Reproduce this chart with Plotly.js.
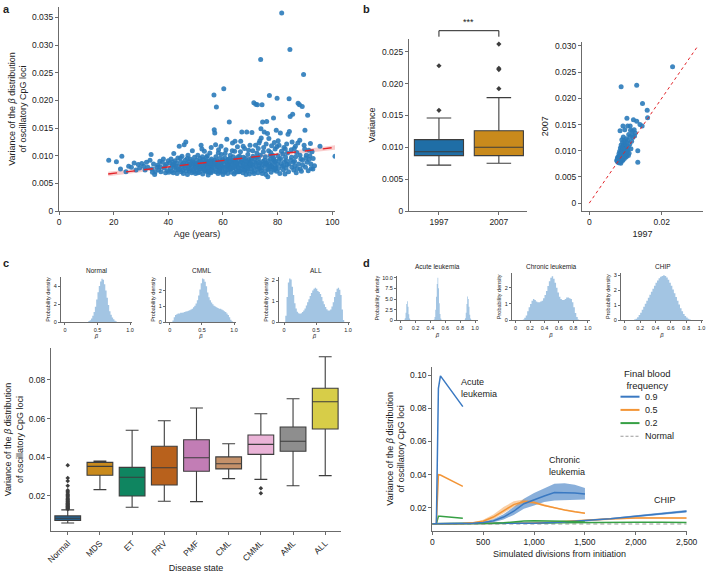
<!DOCTYPE html>
<html><head><meta charset="utf-8">
<script src="https://cdn.plot.ly/plotly-3.0.1.min.js"></script>
<style>html,body{margin:0;padding:0;background:#fff}#chart{width:706px;height:573px}</style>
</head><body><div id="chart"></div><script>
// ---------- Panel a: age vs variance ----------
const scatterA = [
[18.2,0.0092],[21,0.0089],[23,0.0099],[22.5,0.0076],[24.5,0.0071],[25.5,0.0081],[26.5,0.0079],[27.5,0.0087],[28.2,0.0074],[29,0.0084],[29.5,0.0078],[30.3,0.0086],
[31,0.0081],[31.5,0.0074],[32,0.0088],[32.5,0.0079],[33.3,0.0092],[33.7,0.0102],[34,0.0076],[34.6,0.0085],[35,0.0066],[35.2,0.0071],[35.8,0.0079],[36.2,0.0083],[36.5,0.0074],[37,0.0080],[37.3,0.0071],[37.8,0.0088],[38.2,0.0094],[38.5,0.0078],[39,0.0069],[39.3,0.0085],[39.7,0.0073],[40,0.0091],[38.8,0.0082],[36.9,0.0090],[34.2,0.0070],
[40.5,0.0087],[40.8,0.0077],[41,0.0094],[41.2,0.0072],[41.5,0.0083],[41.8,0.0069],[42,0.0104],[42.2,0.0079],[42.5,0.0091],[42.8,0.0074],[43,0.0087],[43.2,0.0068],[43.5,0.0096],[43.8,0.0081],[44,0.0117],[44.2,0.0075],[44.5,0.0089],[44.7,0.0071],[45,0.0099],[45.2,0.0084],[45.5,0.0068],[45.8,0.0120],[46,0.0078],[46.2,0.0092],[46.4,0.0125],[46.6,0.0073],[46.8,0.0086],[47,0.0066],[47.2,0.0101],[47.4,0.0080],[47.6,0.0089],[47.8,0.0072],[48,0.0094],[48.2,0.0077],[48.4,0.0083],[48.6,0.0069],[48.8,0.0109],[49,0.0075],[49.2,0.0088],[49.4,0.0071],[49.6,0.0097],[49.8,0.0082],[50,0.0068],[43.6,0.0075],[44.9,0.0081],[46.9,0.0095],[47.9,0.0084],[48.9,0.0091],[49.9,0.0079],[41.6,0.0088],[42.6,0.0082],[45.6,0.0087],[40.2,0.0070],[41.9,0.0084],[44.4,0.0096],[45.3,0.0074],[46.3,0.0082],[47.5,0.0076],[48.5,0.0086],[49.5,0.0084],
[50.2,0.0083],[50.4,0.0092],[50.6,0.0074],[50.8,0.0101],[51,0.0079],[51.2,0.0088],[51.4,0.0070],[51.6,0.0095],[51.8,0.0082],[52,0.0119],[52.2,0.0076],[52.4,0.0087],[52.6,0.0067],[52.8,0.0093],[53,0.0080],[53.2,0.0108],[53.4,0.0073],[53.6,0.0086],[53.8,0.0078],[54,0.0097],[54.2,0.0071],[54.4,0.0084],[54.6,0.0065],[54.8,0.0090],[55,0.0077],[55.2,0.0105],[55.4,0.0082],[55.6,0.0069],[55.8,0.0094],[56,0.0079],[56.2,0.0088],[56.4,0.0072],[56.7,0.0210],[56.8,0.0147],[57,0.0141],[57.2,0.0083],[57.4,0.0098],[57.6,0.0188],[57.8,0.0075],[58,0.0090],[58.2,0.0068],[58.4,0.0111],[58.6,0.0081],[58.8,0.0095],[59,0.0073],[59.2,0.0086],[59.4,0.0102],[59.6,0.0077],[59.8,0.0089],[60,0.0066],[50.5,0.0086],[51.5,0.0076],[52.5,0.0098],[53.5,0.0084],[54.5,0.0079],[55.5,0.0091],[56.5,0.0085],[57.5,0.0071],[58.5,0.0087],[59.5,0.0081],[50.9,0.0069],[51.9,0.0090],[52.9,0.0077],[53.9,0.0088],[54.9,0.0072],[55.9,0.0083],[56.9,0.0092],[57.9,0.0080],[58.9,0.0076],[59.9,0.0093],[50.1,0.0078],[51.1,0.0084],[52.1,0.0081],[53.1,0.0074],[54.1,0.0087],[55.1,0.0070],[56.1,0.0075],[57.1,0.0089],[58.1,0.0082],[59.1,0.0070],[52.3,0.0112],[54.3,0.0100],[55.7,0.0115],[57.3,0.0120],[58.3,0.0105],[59.3,0.0117],[53.7,0.0091],[56.6,0.0080],[58.7,0.0073],[55.3,0.0086],
[60.3,0.0221],[60.5,0.0084],[60.7,0.0096],[60.9,0.0073],[61.1,0.0111],[61.3,0.0079],[61.5,0.0088],[61.7,0.0068],[61.9,0.0093],[62.1,0.0081],[62.3,0.0161],[62.5,0.0075],[62.7,0.0101],[62.9,0.0086],[63.1,0.0070],[63.3,0.0092],[63.5,0.0123],[63.7,0.0078],[63.9,0.0089],[64.1,0.0067],[64.3,0.0108],[64.5,0.0082],[64.7,0.0094],[64.9,0.0074],[65.1,0.0087],[65.3,0.0116],[65.5,0.0079],[65.7,0.0091],[65.9,0.0071],[66.1,0.0099],[66.3,0.0083],[66.5,0.0126],[66.7,0.0076],[66.9,0.0143],[67.1,0.0088],[67.3,0.0069],[67.5,0.0097],[67.7,0.0080],[67.9,0.0113],[68.1,0.0074],[68.3,0.0090],[68.5,0.0085],[68.7,0.0143],[68.9,0.0072],[69.1,0.0102],[69.3,0.0081],[69.5,0.0093],[69.7,0.0067],[69.9,0.0119],[70,0.0086],[60.2,0.0079],[61.2,0.0090],[62.2,0.0084],[63.2,0.0077],[64.2,0.0091],[65.2,0.0083],[66.2,0.0072],[67.2,0.0081],[68.2,0.0095],[69.2,0.0076],[60.6,0.0070],[61.6,0.0082],[62.6,0.0090],[63.6,0.0085],[64.6,0.0070],[65.6,0.0098],[66.6,0.0088],[67.6,0.0074],[68.6,0.0079],[69.6,0.0088],[60.8,0.0104],[61.8,0.0075],[62.8,0.0078],[63.8,0.0098],[64.8,0.0086],[65.8,0.0077],[66.8,0.0092],[67.8,0.0085],[68.8,0.0089],[69.8,0.0082],[61.4,0.0130],[63.4,0.0109],[64.4,0.0126],[66.4,0.0107],[67.4,0.0117],[69.4,0.0110],[62.4,0.0095],[65.4,0.0071],[68.4,0.0066],[64.0,0.0080],
[70.2,0.0091],[70.4,0.0076],[70.6,0.0142],[70.8,0.0083],[71,0.0099],[71.3,0.0196],[71.5,0.0072],[71.7,0.0088],[72,0.0193],[72.2,0.0080],[72.4,0.0105],[72.6,0.0192],[72.8,0.0069],[73,0.0094],[73.2,0.0123],[73.4,0.0077],[73.6,0.0086],[73.8,0.0274],[73.9,0.0149],[74.1,0.0073],[74.3,0.0192],[74.5,0.0161],[74.7,0.0090],[74.9,0.0115],[75.1,0.0143],[75.3,0.0081],[75.5,0.0098],[75.7,0.0066],[75.9,0.0087],[76,0.0162],[76.3,0.0140],[76.5,0.0075],[76.7,0.0109],[77,0.0209],[77.2,0.0084],[77.4,0.0093],[77.6,0.0070],[77.8,0.0118],[78,0.0079],[78.2,0.0101],[78.5,0.0168],[78.7,0.0074],[78.9,0.0089],[79.1,0.0112],[79.3,0.0078],[79.5,0.0146],[79.8,0.0204],[80,0.0085],[70.3,0.0085],[71.2,0.0079],[72.1,0.0087],[73.1,0.0082],[74.2,0.0078],[75.2,0.0092],[76.2,0.0083],[77.1,0.0077],[78.1,0.0086],[79.2,0.0081],[70.7,0.0071],[71.6,0.0094],[72.7,0.0076],[73.7,0.0101],[74.6,0.0084],[75.6,0.0073],[76.6,0.0091],[77.7,0.0081],[78.6,0.0095],[79.6,0.0072],[70.9,0.0109],[71.9,0.0119],[72.9,0.0113],[73.5,0.0127],[74.8,0.0107],[75.8,0.0121],[76.8,0.0131],[77.5,0.0106],[78.8,0.0124],[79.7,0.0116],[70.5,0.0095],[71.4,0.0068],[72.3,0.0097],[73.3,0.0088],[74.4,0.0068],[75.4,0.0086],[76.4,0.0062],[77.3,0.0100],[78.4,0.0093],[79.4,0.0090],[74,0.0132],[76.9,0.0080],[79,0.0076],
[80.2,0.0127],[80.4,0.0077],[80.6,0.0093],[80.8,0.0068],[81,0.0141],[81.2,0.0086],[81.5,0.0358],[81.7,0.0081],[81.9,0.0103],[82.1,0.0074],[82.3,0.0115],[82.5,0.0089],[82.7,0.0067],[82.9,0.0097],[83.1,0.0078],[83.3,0.0121],[83.5,0.0084],[83.8,0.0139],[84,0.0071],[84.2,0.0203],[84.3,0.0144],[84.5,0.0292],[84.6,0.0171],[84.8,0.0092],[85,0.0111],[85.2,0.0079],[85.5,0.0175],[85.7,0.0088],[85.9,0.0074],[86.1,0.0113],[86.3,0.0082],[86.6,0.0098],[86.8,0.0069],[87,0.0106],[87.5,0.0195],[87.7,0.0085],[88,0.0192],[88.1,0.0128],[88.3,0.0076],[88.5,0.0094],[88.7,0.0072],[89,0.0189],[89.2,0.0083],[89.5,0.0247],[89.7,0.0119],[90,0.0146],[90.2,0.0079],[90.5,0.0101],[90.8,0.0088],[91,0.0173],[91.2,0.0073],[91.5,0.0093],[92,0.0122],[92.3,0.0077],[92.6,0.0107],[93,0.0095],[93.5,0.0082],[95.5,0.0117],[101,0.0099],[80.1,0.0100],[81.1,0.0095],[82.2,0.0082],[83.2,0.0091],[84.1,0.0085],[85.1,0.0097],[86.2,0.0090],[87.2,0.0077],[88.2,0.0101],[89.1,0.0092],[90.3,0.0096],[91.4,0.0110],[92.2,0.0085],[80.5,0.0119],[81.4,0.0108],[82.8,0.0112],[83.6,0.0105],[85.3,0.0125],[86.5,0.0117],[87.4,0.0123],[89.9,0.0112],[91.8,0.0100],[92.9,0.0076]
];
const regAge = [18, 60, 101];
const regFit = [0.0067, 0.0091, 0.0115];
const regLo  = [0.0063, 0.0089, 0.0111];
const regHi  = [0.0071, 0.0093, 0.0119];
const ticksA_y = [0, 0.005, 0.010, 0.015, 0.020, 0.025, 0.030, 0.035];
const ticksA_yText = ['0','0.005','0.010','0.015','0.020','0.025','0.030','0.035'];

// ---------- Panel b ----------
const yearsB = ['1997', '2007'];
const boxB_q1 = [0.0087, 0.0087];
const boxB_med = [0.0093, 0.0100];
const boxB_q3 = [0.0112, 0.0126];
const boxB_lo = [0.0072, 0.0075];
const boxB_hi = [0.0146, 0.0178];
const outB_1997 = [0.0158, 0.0228];
const outB_2007 = [0.0192, 0.0222, 0.0224, 0.0262];
const boxB_colors = ['#1f6ea6', '#c98a1c'];
const ticksB_y = [0, 0.005, 0.010, 0.015, 0.020, 0.025];
const ticksB_yText = ['0','0.005','0.010','0.015','0.020','0.025'];
const pairsB = [
[0.0230,0.0260],[0.0088,0.0222],[0.0131,0.0225],[0.0147,0.0190],[0.0160,0.0177],[0.0161,0.0163],[0.0104,0.0162],[0.0122,0.0159],[0.0131,0.0156],[0.0140,0.0150],[0.0146,0.0147],[0.0093,0.0147],[0.0106,0.0147],[0.0113,0.0147],[0.0085,0.0138],[0.0098,0.0140],[0.0114,0.0139],[0.0124,0.0140],[0.0119,0.0137],[0.0127,0.0134],[0.0109,0.0131],[0.0119,0.0130],[0.0125,0.0128],[0.0113,0.0127],[0.0120,0.0125],[0.0094,0.0126],[0.0102,0.0123],[0.0090,0.0121],[0.0096,0.0119],[0.0107,0.0120],[0.0117,0.0118],[0.0103,0.0116],[0.0092,0.0115],[0.0099,0.0113],[0.0112,0.0113],[0.0088,0.0111],[0.0094,0.0110],[0.0101,0.0109],[0.0108,0.0108],[0.0097,0.0107],[0.0090,0.0106],[0.0086,0.0105],[0.0093,0.0104],[0.0100,0.0103],[0.0105,0.0102],[0.0089,0.0101],[0.0095,0.0100],[0.0134,0.0100],[0.0084,0.0099],[0.0091,0.0098],[0.0098,0.0097],[0.0102,0.0097],[0.0087,0.0096],[0.0093,0.0095],[0.0110,0.0095],[0.0082,0.0094],[0.0089,0.0093],[0.0096,0.0092],[0.0104,0.0092],[0.0085,0.0091],[0.0092,0.0090],[0.0099,0.0090],[0.0108,0.0091],[0.0081,0.0089],[0.0088,0.0088],[0.0094,0.0087],[0.0102,0.0088],[0.0078,0.0087],[0.0084,0.0086],[0.0090,0.0085],[0.0097,0.0085],[0.0080,0.0084],[0.0086,0.0083],[0.0093,0.0082],[0.0076,0.0082],[0.0083,0.0081],[0.0089,0.0080],[0.0079,0.0079],[0.0085,0.0078],[0.0134,0.0078],[0.0081,0.0077],[0.0087,0.0076],[0.0077,0.0080],[0.0091,0.0083],[0.0100,0.0094],[0.0106,0.0099],[0.0115,0.0104],[0.0083,0.0090],[0.0095,0.0089],[0.0079,0.0085]
];
const diagB = [0, 0.030];
const ticksB3_x = [0, 0.02];
const ticksB3_xText = ['0', '0.02'];
const ticksB3_y = [0, 0.005, 0.010, 0.015, 0.020, 0.025, 0.030];
const ticksB3_yText = ['0','0.005','0.010','0.015','0.020','0.025','0.030'];

// ---------- Panel c histograms (bin centre, density) ----------
const histNormal = [[0.35,0],[0.37,0.1],[0.39,0.2],[0.41,0.4],[0.43,0.7],[0.45,1.1],[0.47,1.7],[0.49,2.5],[0.51,3.3],[0.53,4.0],[0.55,4.5],[0.57,4.8],[0.59,4.7],[0.61,4.2],[0.63,3.5],[0.65,2.7],[0.67,1.9],[0.69,1.2],[0.71,0.8],[0.73,0.5],[0.75,0.3],[0.77,0.15],[0.79,0.05],[0.81,0]];
const histCMML = [[0.03,0],[0.05,0.1],[0.07,0.3],[0.09,0.45],[0.11,0.5],[0.13,0.55],[0.15,0.55],[0.17,0.6],[0.19,0.6],[0.21,0.62],[0.23,0.65],[0.25,0.68],[0.27,0.7],[0.29,0.72],[0.31,0.75],[0.33,0.8],[0.35,0.85],[0.37,0.95],[0.39,1.05],[0.41,1.2],[0.43,1.4],[0.45,1.7],[0.47,2.1],[0.49,2.5],[0.51,2.8],[0.53,2.75],[0.55,2.6],[0.57,2.3],[0.59,1.9],[0.61,1.6],[0.63,1.4],[0.65,1.25],[0.67,1.15],[0.69,1.05],[0.71,1.0],[0.73,0.95],[0.75,0.9],[0.77,0.85],[0.79,0.85],[0.81,0.8],[0.83,0.75],[0.85,0.7],[0.87,0.65],[0.89,0.55],[0.91,0.45],[0.93,0.3],[0.95,0.15],[0.97,0.05],[0.99,0]];
const histALL = [[0.01,0],[0.03,0.3],[0.05,1.2],[0.07,1.9],[0.09,2.1],[0.11,2.05],[0.13,1.7],[0.15,1.3],[0.17,0.9],[0.19,0.65],[0.21,0.5],[0.23,0.42],[0.25,0.4],[0.27,0.42],[0.29,0.48],[0.31,0.55],[0.33,0.65],[0.35,0.8],[0.37,0.95],[0.39,1.1],[0.41,1.25],[0.43,1.4],[0.45,1.52],[0.47,1.6],[0.49,1.65],[0.51,1.6],[0.53,1.5],[0.55,1.45],[0.57,1.35],[0.59,1.2],[0.61,1.0],[0.63,0.85],[0.65,0.72],[0.67,0.62],[0.69,0.55],[0.71,0.55],[0.73,0.6],[0.75,0.75],[0.77,0.95],[0.79,1.2],[0.81,1.45],[0.83,1.6],[0.85,1.65],[0.87,1.55],[0.89,1.3],[0.91,0.6],[0.93,0.1],[0.95,0]];

// ---------- Panel c box plot ----------
const diseases = ['Normal','MDS','ET','PRV','PMF','CML','CMML','AML','ALL'];
const boxC_q1  = [0.0074,0.0307,0.0200,0.0257,0.0328,0.0340,0.0415,0.0431,0.0546];
const boxC_med = [0.0085,0.0353,0.0297,0.0346,0.0398,0.0367,0.0467,0.0483,0.0687];
const boxC_q3  = [0.0097,0.0374,0.0348,0.0457,0.0491,0.0402,0.0515,0.0557,0.0757];
const boxC_lo  = [0.0060,0.0233,0.0142,0.0173,0.0171,0.0290,0.0286,0.0253,0.0305];
const boxC_hi  = [0.0128,0.0380,0.0540,0.0589,0.0655,0.0470,0.0625,0.0703,0.0920];
const boxC_colors = ['#24699c','#c98a1c','#0f8560','#b8611c','#c27db5','#c4916a','#eab3d7','#8e8e8e','#d7cd48'];
const outC_Normal = [0.0132,0.0135,0.0138,0.0141,0.0144,0.0147,0.0150,0.0153,0.0156,0.0160,0.0163,0.0167,0.0171,0.0175,0.0180,0.0185,0.0190,0.0196,0.0202,0.0208,0.0215,0.0222,0.0230,0.0253,0.0277,0.0293,0.0359];
const outC_CMML = [0.0240, 0.0214];
const ticksC_y = [0.02, 0.04, 0.06, 0.08];
const ticksC_yText = ['0.02','0.04','0.06','0.08'];

// ---------- Panel d histograms ----------
const histAcute = [[0.04,0],[0.05,0.1],[0.06,0.5],[0.07,1.8],[0.08,3.8],[0.09,4.5],[0.10,3.2],[0.11,1.4],[0.12,0.4],[0.13,0.1],[0.14,0],[0.44,0],[0.45,0.2],[0.46,0.8],[0.47,2.5],[0.48,5.5],[0.49,8.5],[0.50,10.0],[0.51,7.5],[0.52,4.0],[0.53,1.5],[0.54,0.4],[0.55,0.1],[0.56,0],[0.85,0],[0.86,0.1],[0.87,0.5],[0.88,1.8],[0.89,3.8],[0.90,5.6],[0.91,5.0],[0.92,3.2],[0.93,1.3],[0.94,0.4],[0.95,0.1],[0.96,0]];
const histChronic = [[0.09,0],[0.11,0.05],[0.13,0.15],[0.15,0.3],[0.17,0.55],[0.19,0.8],[0.21,1.0],[0.23,1.2],[0.25,1.3],[0.27,1.25],[0.29,1.15],[0.31,1.1],[0.33,1.1],[0.35,1.15],[0.37,1.2],[0.39,1.35],[0.41,1.55],[0.43,1.8],[0.45,2.1],[0.47,2.4],[0.49,2.6],[0.51,2.7],[0.53,2.55],[0.55,2.3],[0.57,2.0],[0.59,1.7],[0.61,1.45],[0.63,1.3],[0.65,1.25],[0.67,1.25],[0.69,1.3],[0.71,1.4],[0.73,1.4],[0.75,1.35],[0.77,1.3],[0.79,1.1],[0.81,0.8],[0.83,0.45],[0.85,0.2],[0.87,0.05],[0.89,0]];
const histCHIP = [[0.09,0],[0.11,0.02],[0.13,0.05],[0.15,0.1],[0.17,0.2],[0.19,0.35],[0.21,0.5],[0.23,0.7],[0.25,0.9],[0.27,1.1],[0.29,1.3],[0.31,1.5],[0.33,1.7],[0.35,1.9],[0.37,2.1],[0.39,2.3],[0.41,2.5],[0.43,2.65],[0.45,2.8],[0.47,2.9],[0.49,2.95],[0.51,3.0],[0.53,2.95],[0.55,2.85],[0.57,2.7],[0.59,2.5],[0.61,2.3],[0.63,2.05],[0.65,1.8],[0.67,1.55],[0.69,1.3],[0.71,1.05],[0.73,0.8],[0.75,0.6],[0.77,0.42],[0.79,0.28],[0.81,0.18],[0.83,0.1],[0.85,0.05],[0.87,0.02],[0.89,0]];

// ---------- Panel d simulation lines ----------
const xAcute = [0, 40, 60, 80, 300];
const acute09 = [0.0105, 0.0105, 0.092, 0.0995, 0.081];
const acute05 = [0.0105, 0.0105, 0.040, 0.0398, 0.033];
const acute02 = [0.0105, 0.0105, 0.0150, 0.0150, 0.0138];
const xChronic = [0,100,200,300,400,500,600,700,800,900,1000,1100,1200,1300,1400,1500];
const chronic09   = [0.0105,0.0105,0.0105,0.0106,0.0108,0.0112,0.0122,0.0145,0.0180,0.0225,0.0250,0.0272,0.0292,0.0293,0.0290,0.0283];
const chronic09lo = [0.0105,0.0105,0.0105,0.0105,0.0106,0.0108,0.0114,0.0130,0.0158,0.0195,0.0215,0.0235,0.0245,0.0248,0.0250,0.0250];
const chronic09hi = [0.0105,0.0105,0.0106,0.0107,0.0110,0.0117,0.0131,0.0162,0.0205,0.0255,0.0290,0.0320,0.0345,0.0348,0.0340,0.0320];
const chronic05   = [0.0105,0.0105,0.0105,0.0106,0.0110,0.0120,0.0145,0.0185,0.0220,0.0238,0.0232,0.0215,0.0200,0.0188,0.0177,0.0168];
const chronic05lo = [0.0105,0.0105,0.0105,0.0105,0.0107,0.0113,0.0132,0.0168,0.0205,0.0228,0.0225,0.0210,0.0196,0.0184,0.0174,0.0165];
const chronic05hi = [0.0105,0.0105,0.0106,0.0107,0.0114,0.0128,0.0160,0.0205,0.0240,0.0250,0.0240,0.0221,0.0205,0.0192,0.0181,0.0172];
const chronic02   = [0.0105,0.0105,0.0105,0.0105,0.0105,0.0106,0.0107,0.0110,0.0116,0.0121,0.0123,0.0123,0.0121,0.0119,0.0117,0.0115];
const xChip = [0,250,500,750,1000,1250,1500,1750,2000,2250,2500];
const chip09   = [0.0105,0.0105,0.0105,0.0106,0.0108,0.0113,0.0122,0.0135,0.0150,0.0165,0.0180];
const chip09lo = [0.0105,0.0105,0.0105,0.0105,0.0107,0.0111,0.0118,0.0130,0.0144,0.0158,0.0172];
const chip09hi = [0.0105,0.0105,0.0105,0.0107,0.0109,0.0115,0.0126,0.0140,0.0156,0.0172,0.0187];
const chip05   = [0.0105,0.0105,0.0105,0.0106,0.0109,0.0116,0.0126,0.0135,0.0140,0.0141,0.0139];
const chip05lo = [0.0105,0.0105,0.0105,0.0105,0.0107,0.0112,0.0120,0.0129,0.0134,0.0136,0.0135];
const chip05hi = [0.0105,0.0105,0.0105,0.0107,0.0111,0.0120,0.0132,0.0141,0.0146,0.0146,0.0143];
const chip02   = [0.0105,0.0105,0.0105,0.0106,0.0108,0.0110,0.0112,0.0113,0.0113,0.0113,0.0112];
const xNormal = [0, 2500];
const normalLevel = [0.0103, 0.0103];
const ticksD_x = [0, 500, 1000, 1500, 2000, 2500];
const ticksD_xText = ['0','500','1,000','1,500','2,000','2,500'];
const ticksD_y = [0.02, 0.04, 0.06, 0.08, 0.10];
const ticksD_yText = ['0.02','0.04','0.06','0.08','0.10'];
const legendLabels = ['0.9', '0.5', '0.2', 'Normal'];

// ================= build =================
const W = 706, H = 573;
const px = (a, b) => [a / W, b / W];
const py = (top, bottom) => [1 - bottom / H, 1 - top / H];
const FONT = 'Liberation Sans, Arial, Helvetica, sans-serif';
const AX = '#6b6b6b';
const HISTC = '#a3c5e3';
const C09 = '#3a79c2', C05 = '#f39536', C02 = '#36a044', CN = '#9a9a9a';
const legendColors = [C09, C05, C02, CN];
const legendDash = ['solid', 'solid', 'solid', '3px,2px'];

function axis(domain, range, extra) {
  return Object.assign({
    domain: domain, range: range, showgrid: false, zeroline: false, showline: true,
    linecolor: AX, linewidth: 1, ticks: 'outside', ticklen: 3, tickwidth: 1, tickcolor: AX,
    tickfont: {size: 8.5, color: '#222'}, fixedrange: true, automargin: false
  }, extra || {});
}
const betaTitle = {text: '<i>β</i>', font: {size: 6}, standoff: 2};
const pdTitle = {text: 'Probability density', font: {size: 5.5}, standoff: 2};
const smallTick = {size: 5.5, color: '#222'};

const traces = [];
// a
traces.push({type:'scatter', mode:'lines', x: regAge, y: regLo, line:{width:0}, hoverinfo:'skip', showlegend:false, xaxis:'x', yaxis:'y'});
traces.push({type:'scatter', mode:'lines', x: regAge, y: regHi, line:{width:0}, fill:'tonexty', fillcolor:'rgba(240,130,130,0.4)', hoverinfo:'skip', showlegend:false, xaxis:'x', yaxis:'y'});
traces.push({type:'scatter', mode:'markers', x: scatterA.map(p=>p[0]), y: scatterA.map(p=>p[1]),
  marker:{size:5, color:'#2b7bba', opacity:0.9}, showlegend:false, xaxis:'x', yaxis:'y'});
traces.push({type:'scatter', mode:'lines', x: regAge, y: regFit, line:{color:'#e2242a', width:1.4, dash:'dash'}, showlegend:false, xaxis:'x', yaxis:'y'});

// b box
yearsB.forEach((yr, i) => {
  traces.push({type:'box', x:[yr], q1:[boxB_q1[i]], median:[boxB_med[i]], q3:[boxB_q3[i]],
    lowerfence:[boxB_lo[i]], upperfence:[boxB_hi[i]], width:0.82, whiskerwidth:0.5,
    fillcolor: boxB_colors[i], line:{color:'#3d3d3d', width:1.1}, boxpoints:false,
    showlegend:false, xaxis:'x2', yaxis:'y2', hoverinfo:'skip'});
});
traces.push({type:'scatter', mode:'markers', x: outB_1997.map(()=>yearsB[0]), y: outB_1997, marker:{symbol:'diamond', size:4, color:'#3d3d3d'}, showlegend:false, xaxis:'x2', yaxis:'y2'});
traces.push({type:'scatter', mode:'markers', x: outB_2007.map(()=>yearsB[1]), y: outB_2007, marker:{symbol:'diamond', size:4, color:'#3d3d3d'}, showlegend:false, xaxis:'x2', yaxis:'y2'});
// b scatter
traces.push({type:'scatter', mode:'markers', x: pairsB.map(p=>p[0]), y: pairsB.map(p=>p[1]), marker:{size:5, color:'#2b7bba', opacity:0.9}, showlegend:false, xaxis:'x3', yaxis:'y3'});
traces.push({type:'scatter', mode:'lines', x: diagB, y: diagB, line:{color:'#e2242a', width:1, dash:'dot'}, showlegend:false, xaxis:'x3', yaxis:'y3'});

// histograms drawn as filled step outlines (one step per bin, no seams)
function hist(data, xa, ya) {
  traces.push({type:'scatter', mode:'lines', x: data.map(p=>p[0]), y: data.map(p=>p[1]),
    line:{shape:'hvh', width:0, color: HISTC}, fill:'tozeroy', fillcolor: HISTC,
    showlegend:false, xaxis: xa, yaxis: ya, hoverinfo:'skip'});
}
hist(histNormal, 'x4', 'y4');
hist(histCMML, 'x5', 'y5');
hist(histALL, 'x6', 'y6');
hist(histAcute, 'x8', 'y8');
hist(histChronic, 'x9', 'y9');
hist(histCHIP, 'x10', 'y10');

// c box
diseases.forEach((d, i) => {
  traces.push({type:'box', x:[d], q1:[boxC_q1[i]], median:[boxC_med[i]], q3:[boxC_q3[i]],
    lowerfence:[boxC_lo[i]], upperfence:[boxC_hi[i]], width:0.8, whiskerwidth:0.5,
    fillcolor: boxC_colors[i], line:{color:'#3d3d3d', width:1.1}, boxpoints:false,
    showlegend:false, xaxis:'x7', yaxis:'y7', hoverinfo:'skip'});
});
traces.push({type:'scatter', mode:'markers', x: outC_Normal.map(()=>diseases[0]), y: outC_Normal, marker:{symbol:'diamond', size:3.5, color:'#3d3d3d'}, showlegend:false, xaxis:'x7', yaxis:'y7'});
traces.push({type:'scatter', mode:'markers', x: outC_CMML.map(()=>diseases[6]), y: outC_CMML, marker:{symbol:'diamond', size:3.5, color:'#3d3d3d'}, showlegend:false, xaxis:'x7', yaxis:'y7'});

// d lines
function band(x, lo, hi, color) {
  traces.push({type:'scatter', mode:'lines', x:x, y:lo, line:{width:0}, hoverinfo:'skip', showlegend:false, xaxis:'x11', yaxis:'y11'});
  traces.push({type:'scatter', mode:'lines', x:x, y:hi, line:{width:0}, fill:'tonexty', fillcolor:color, hoverinfo:'skip', showlegend:false, xaxis:'x11', yaxis:'y11'});
}
function line(x, y, color, name, dash, w) {
  traces.push({type:'scatter', mode:'lines', x:x, y:y, name:name, showlegend:false,
    line:{color:color, width: w || 1.5, dash: dash || 'solid'}, xaxis:'x11', yaxis:'y11'});
}
band(xChronic, chronic09lo, chronic09hi, 'rgba(58,121,194,0.6)');
band(xChronic, chronic05lo, chronic05hi, 'rgba(243,149,54,0.45)');
band(xChip, chip09lo, chip09hi, 'rgba(58,121,194,0.6)');
band(xChip, chip05lo, chip05hi, 'rgba(243,149,54,0.45)');
line(xNormal, normalLevel, CN, 'Normal', '4px,3px', 1.2);
line(xChip, chip02, C02, '0.2');
line(xChip, chip05, C05, '0.5');
line(xChip, chip09, C09, '0.9');
line(xChronic, chronic02, C02, '0.2');
line(xChronic, chronic05, C05, '0.5');
line(xChronic, chronic09, C09, '0.9');
line(xAcute, acute02, C02, '0.2');
line(xAcute, acute05, C05, '0.5');
line(xAcute, acute09, C09, '0.9');

// manual legend for panel d (compact spacing as in the figure)
const legShapes = [], legAnn = [];
legendLabels.forEach((lab, i) => {
  const yy = 1 - (396.7 + i * 13.2) / H;
  legShapes.push({type:'line', xref:'paper', yref:'paper', x0:620.5/W, x1:639.5/W, y0:yy, y1:yy,
    line:{color: legendColors[i], width: i === 3 ? 1.1 : 2, dash: legendDash[i]}});
  legAnn.push({text: lab, xref:'paper', yref:'paper', x:643/W, y:yy, xanchor:'left', yanchor:'middle', showarrow:false, font:{size:9}});
});
legAnn.push({text:'Final blood<br>frequency', xref:'paper', yref:'paper', x:647/W, y:1-379.5/H, xanchor:'center', yanchor:'middle', align:'center', showarrow:false, font:{size:9.5}});

const twoLine = 'Variance of the <i>β</i> distribution<br>of oscillatory CpG loci';
const layout = {
  width: W, height: H, margin: {l:0, r:0, t:0, b:0}, paper_bgcolor:'#fff', plot_bgcolor:'rgba(0,0,0,0)',
  font: {family: FONT, size: 9, color: '#222'}, showlegend: false, hovermode: false,
  xaxis: axis(px(59,335), [0,101], {anchor:'y', tickvals:[0,20,40,60,80,100], title:{text:'Age (years)', font:{size:9}, standoff:4}}),
  yaxis: axis(py(7,211), [0,0.0369], {anchor:'x', tickvals:ticksA_y, ticktext:ticksA_yText, title:{text:twoLine, font:{size:9}, standoff:3}}),
  xaxis2: axis(px(409,527), [-0.5,1.47], {anchor:'y2', type:'category', categoryarray: yearsB}),
  yaxis2: axis(py(39,211), [0,0.027], {anchor:'x2', tickvals:ticksB_y, ticktext:ticksB_yText, title:{text:'Variance', font:{size:9}, standoff:4}}),
  xaxis3: axis(px(582,703), [-0.002,0.0314], {anchor:'y3', tickvals:ticksB3_x, ticktext:ticksB3_xText, title:{text:'1997', font:{size:9}, standoff:4}}),
  yaxis3: axis(py(41.7,211), [-0.0015,0.0308], {anchor:'x3', tickvals:ticksB3_y, ticktext:ticksB3_yText, title:{text:'2007', font:{size:9}, standoff:4}}),
  xaxis4: axis(px(61,132), [-0.06,1.03], {anchor:'y4', tickvals:[0,0.5,1], ticktext:['0','0.5','1.0'], tickfont:smallTick, ticklen:2, title:betaTitle}),
  yaxis4: axis(py(277,322), [0,5.0], {anchor:'x4', tickvals:[0,2,4], tickfont:smallTick, ticklen:2, title:pdTitle}),
  xaxis5: axis(px(166,236), [-0.06,1.03], {anchor:'y5', tickvals:[0,0.5,1], ticktext:['0','0.5','1.0'], tickfont:smallTick, ticklen:2, title:betaTitle}),
  yaxis5: axis(py(277,322), [0,2.9], {anchor:'x5', tickvals:[0,1,2], tickfont:smallTick, ticklen:2, title:pdTitle}),
  xaxis6: axis(px(279,350), [-0.078,1.03], {anchor:'y6', tickvals:[0,0.5,1], ticktext:['0','0.5','1.0'], tickfont:smallTick, ticklen:2, title:betaTitle}),
  yaxis6: axis(py(277,322), [0,2.17], {anchor:'x6', tickvals:[0,1,2], tickfont:smallTick, ticklen:2, title:pdTitle}),
  xaxis7: axis(px(51,341), [-0.52,8.49], {anchor:'y7', type:'category', categoryarray: diseases, tickangle:-45, title:{text:'Disease state', font:{size:9}, standoff:3}}),
  yaxis7: axis(py(348,531), [0.0019,0.0965], {anchor:'x7', tickvals:ticksC_y, ticktext:ticksC_yText, title:{text:twoLine, font:{size:9}, standoff:3}}),
  xaxis8: axis(px(397,478), [-0.05,1.04], {anchor:'y8', tickvals:[0,0.2,0.4,0.6,0.8,1], ticktext:['0','0.2','0.4','0.6','0.8','1.0'], tickfont:smallTick, ticklen:2, title:betaTitle}),
  yaxis8: axis(py(276,320.3), [0,10.4], {anchor:'x8', tickvals:[0,2.5,5,7.5,10], ticktext:['0','2.5','5.0','7.5','10.0'], tickfont:smallTick, ticklen:2, title:pdTitle}),
  xaxis9: axis(px(512,590), [-0.05,1.03], {anchor:'y9', tickvals:[0,0.2,0.4,0.6,0.8,1], ticktext:['0','0.2','0.4','0.6','0.8','1.0'], tickfont:smallTick, ticklen:2, title:betaTitle}),
  yaxis9: axis(py(273.3,320.3), [0,2.88], {anchor:'x9', tickvals:[0,1,2], tickfont:smallTick, ticklen:2, title:pdTitle}),
  xaxis10: axis(px(621,703), [-0.05,1.02], {anchor:'y10', tickvals:[0,0.2,0.4,0.6,0.8,1], ticktext:['0','0.2','0.4','0.6','0.8','1.0'], tickfont:smallTick, ticklen:2, title:betaTitle}),
  yaxis10: axis(py(273,320.3), [0,3.15], {anchor:'x10', tickvals:[0,1,2,3], tickfont:smallTick, ticklen:2, title:pdTitle}),
  xaxis11: axis(px(432.3,686.7), [0,2500], {anchor:'y11', tickvals:ticksD_x, ticktext:ticksD_xText, title:{text:'Simulated divisions from initiation', font:{size:9}, standoff:4}}),
  yaxis11: axis(py(366.7,531), [0.0061,0.105], {anchor:'x11', tickvals:ticksD_y, ticktext:ticksD_yText, title:{text:twoLine, font:{size:9}, standoff:3}}),
  shapes: [
    {type:'line', xref:'x2', yref:'paper', x0:0, x1:0, y0:1-36.7/H, y1:1-30.7/H, line:{color:'#222', width:1}},
    {type:'line', xref:'x2', yref:'paper', x0:0, x1:1, y0:1-30.7/H, y1:1-30.7/H, line:{color:'#222', width:1}},
    {type:'line', xref:'x2', yref:'paper', x0:1, x1:1, y0:1-36.7/H, y1:1-30.7/H, line:{color:'#222', width:1}}
  ].concat(legShapes),
  annotations: [
    {text:'<b>a</b>', xref:'paper', yref:'paper', x:1/W, y:1-1/H, xanchor:'left', yanchor:'top', showarrow:false, font:{size:11}},
    {text:'<b>b</b>', xref:'paper', yref:'paper', x:361/W, y:1-1/H, xanchor:'left', yanchor:'top', showarrow:false, font:{size:11}},
    {text:'<b>c</b>', xref:'paper', yref:'paper', x:1/W, y:1-255/H, xanchor:'left', yanchor:'top', showarrow:false, font:{size:11}},
    {text:'<b>d</b>', xref:'paper', yref:'paper', x:361/W, y:1-255/H, xanchor:'left', yanchor:'top', showarrow:false, font:{size:11}},
    {text:'***', xref:'x2', yref:'paper', x:0.5, y:1-29/H, xanchor:'center', yanchor:'bottom', showarrow:false, font:{size:9}},
    {text:'Normal', xref:'x4', yref:'paper', x:0.5, y:1-276/H, yanchor:'bottom', showarrow:false, font:{size:6.5}},
    {text:'CMML', xref:'x5', yref:'paper', x:0.5, y:1-276/H, yanchor:'bottom', showarrow:false, font:{size:6.5}},
    {text:'ALL', xref:'x6', yref:'paper', x:0.5, y:1-276/H, yanchor:'bottom', showarrow:false, font:{size:6.5}},
    {text:'Acute leukemia', xref:'x8', yref:'paper', x:0.5, y:1-272/H, yanchor:'bottom', showarrow:false, font:{size:6.5}},
    {text:'Chronic leukemia', xref:'x9', yref:'paper', x:0.5, y:1-272/H, yanchor:'bottom', showarrow:false, font:{size:6.5}},
    {text:'CHIP', xref:'x10', yref:'paper', x:0.5, y:1-272/H, yanchor:'bottom', showarrow:false, font:{size:6.5}},
    {text:'Acute<br>leukemia', xref:'x11', yref:'y11', x:262, y:0.0922, xanchor:'left', align:'left', showarrow:false, font:{size:9}},
    {text:'Chronic<br>leukemia', xref:'x11', yref:'y11', x:1125, y:0.0452, xanchor:'left', align:'left', showarrow:false, font:{size:9}},
    {text:'CHIP', xref:'x11', yref:'y11', x:2160, y:0.0248, xanchor:'left', align:'left', showarrow:false, font:{size:9}}
  ].concat(legAnn)
};
Plotly.newPlot('chart', traces, layout, {displayModeBar:false, staticPlot:true});
</script></body></html>
